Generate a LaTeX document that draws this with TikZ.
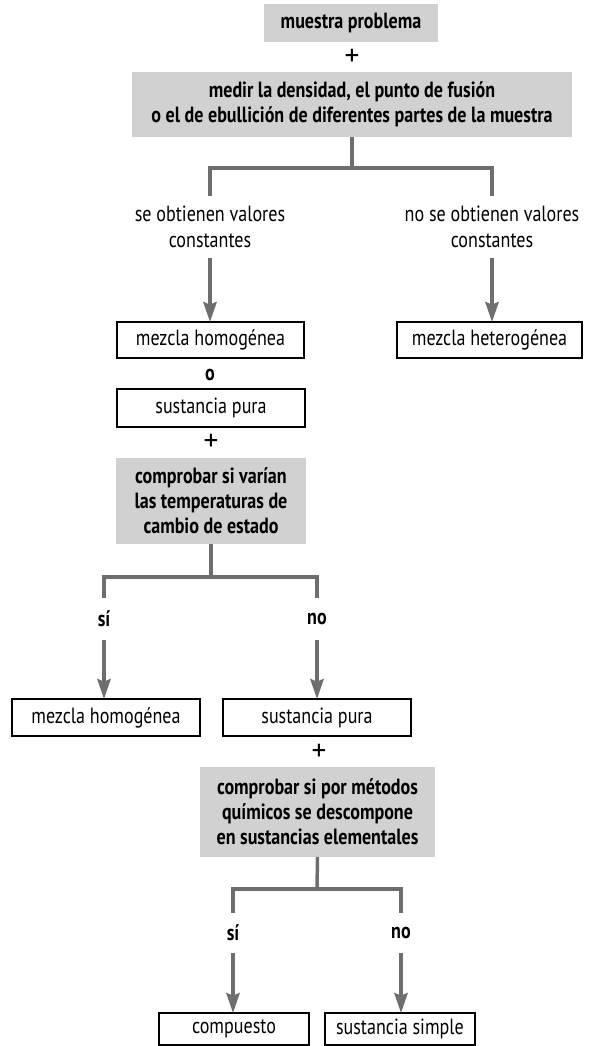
\documentclass[tikz,border=0pt]{standalone}
\usepackage{fontspec}
\setmainfont[FakeStretch=0.82]{PT Sans}
\newfontfamily\plusfont{PT Sans}
\usetikzlibrary{arrows.meta}
\definecolor{boxgray}{HTML}{D1D1D1}
\definecolor{linegray}{HTML}{6E6E6E}
\tikzset{
  px/.style={x=0.75pt,y=-0.75pt},
  whitebox/.style={draw=black, line width=1.1pt, inner sep=0pt, outer sep=0pt, align=center},
  graybox/.style={fill=boxgray, inner sep=0pt, outer sep=0pt, align=center, font=\fontsize{16.5}{18.75}\selectfont\bfseries},
  lbl/.style={inner sep=0pt, outer sep=0pt, align=center},
  pluslbl/.style={inner sep=0pt, outer sep=0pt, font=\plusfont\fontsize{22}{22}\selectfont},
  boldlbl/.style={inner sep=0pt, outer sep=0pt, align=center, font=\fontsize{16.5}{18.75}\selectfont\bfseries},
  conn/.style={draw=linegray, line width=2.6pt},
  arr/.style={draw=linegray, line width=2.6pt, -{Stealth[width=10pt,length=15pt,inset=2pt,fill=linegray]}},
}
\begin{document}
\begin{tikzpicture}[px, font=\fontsize{16.5}{20}\selectfont]
\useasboundingbox (0,0) rectangle (589,1046);
% top
\node[graybox, minimum width=174*0.75pt, minimum height=38*0.75pt] (b1) at (351,23) {muestra problema};
\node[pluslbl] (p1) at (352,57) {+};
\node[graybox, minimum width=440*0.75pt, minimum height=65*0.75pt] (b2) at (352,104.5) {medir la densidad, el punto de fusión\\o el de ebullición de diferentes partes de la muestra};
\coordinate (j1) at (352,168);
\node[lbl, minimum height=62*0.75pt] (l1) at (210,227) {se obtienen valores\\constantes};
\node[lbl, minimum height=62*0.75pt] (r1) at (492,227) {no se obtienen valores\\constantes};
\node[whitebox, minimum width=187*0.75pt, minimum height=36*0.75pt] (mh1) at (210.5,340) {mezcla homogénea};
\node[whitebox, minimum width=185*0.75pt, minimum height=36*0.75pt] (het) at (489.5,340) {mezcla heterogénea};
\draw[conn] (b2.south) -- (j1);
\draw[conn] (l1.north) -- (l1.north |- j1) -- (r1.north |- j1) -- (r1.north);
\draw[arr] (l1.south) -- (l1.south |- mh1.north);
\draw[arr] (r1.south) -- (r1.south |- het.north);
% middle
\node[boldlbl] (o1) at (210,375) {o};
\node[whitebox, minimum width=188*0.75pt, minimum height=38*0.75pt] (sp1) at (211,408) {sustancia pura};
\node[pluslbl] (p2) at (211,442) {+};
\node[graybox, minimum width=190*0.75pt, minimum height=86*0.75pt] (b3) at (211,501) {comprobar si varían\\las temperaturas de\\cambio de estado};
\coordinate (j2) at (211,577);
\node[boldlbl, minimum height=42*0.75pt] (si1) at (104,619) {sí};
\node[boldlbl, minimum height=42*0.75pt] (no1) at (317,619) {no};
\node[whitebox, minimum width=188*0.75pt, minimum height=37*0.75pt] (mh2) at (106,717.5) {mezcla homogénea};
\node[whitebox, minimum width=188*0.75pt, minimum height=37*0.75pt] (sp2) at (317,717.5) {sustancia pura};
\draw[conn] (b3.south) -- (j2);
\draw[conn] (si1.north) -- (si1.north |- j2) -- (no1.north |- j2) -- (no1.north);
\draw[arr] (si1.south) -- (si1.south |- mh2.north);
\draw[arr] (no1.south) -- (no1.south |- sp2.north);
% bottom
\node[pluslbl] (p3) at (319,752) {+};
\node[graybox, minimum width=235*0.75pt, minimum height=90*0.75pt] (b4) at (317.5,812) {comprobar si por métodos\\químicos se descompone\\en sustancias elementales};
\coordinate (j3) at (317,889);
\node[boldlbl, minimum height=40*0.75pt] (si2) at (233,933) {sí};
\node[boldlbl, minimum height=40*0.75pt] (no2) at (401,933) {no};
\node[whitebox, minimum width=150*0.75pt, minimum height=32*0.75pt] (comp) at (234,1029) {compuesto};
\node[whitebox, minimum width=150*0.75pt, minimum height=32*0.75pt] (ss) at (400,1029) {sustancia simple};
\draw[conn] (b4.south) -- (j3);
\draw[conn] (si2.north) -- (si2.north |- j3) -- (no2.north |- j3) -- (no2.north);
\draw[arr] (si2.south) -- (si2.south |- comp.north);
\draw[arr] (no2.south) -- (no2.south |- ss.north);
\end{tikzpicture}
\end{document}
